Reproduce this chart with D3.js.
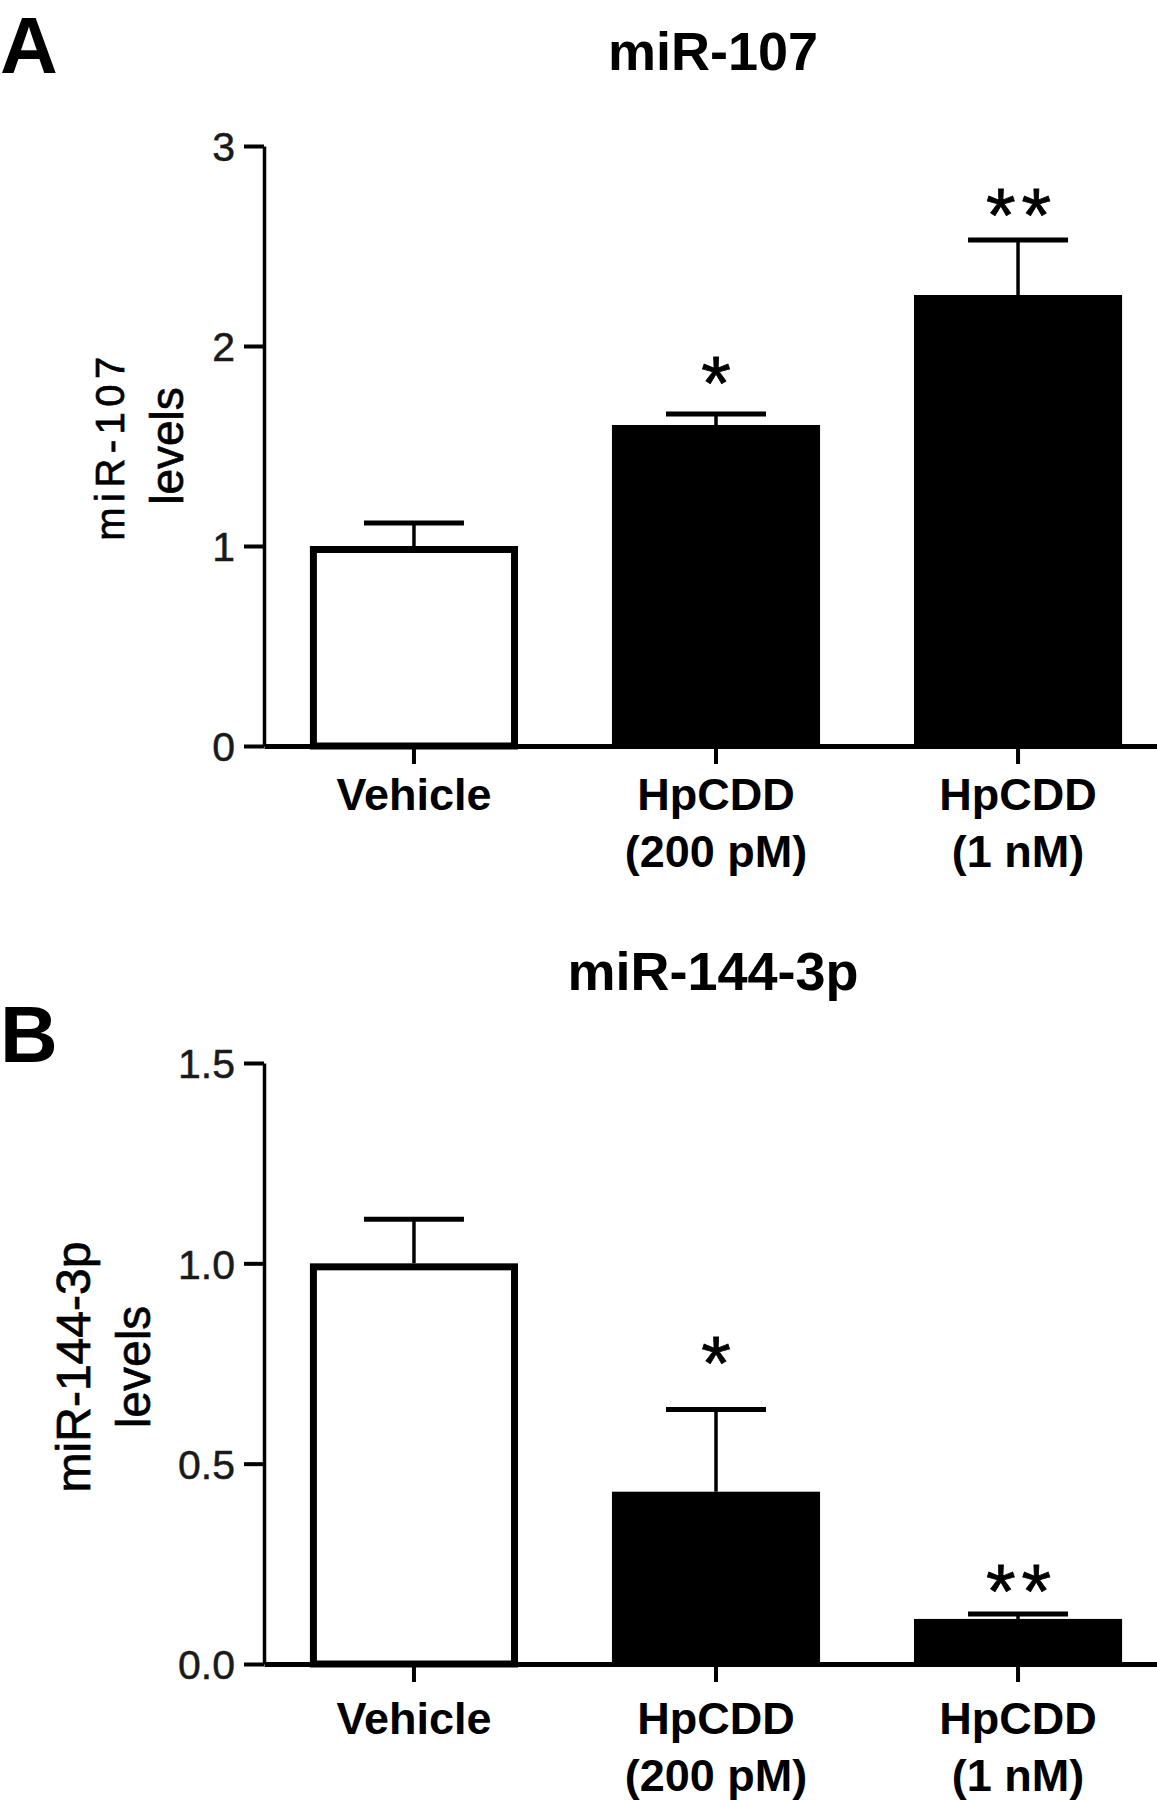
<!DOCTYPE html>
<html>
<head>
<meta charset="utf-8">
<script src="https://cdn.jsdelivr.net/npm/d3@7"></script>
<style>
  body { margin: 0; background: #fff; }
  text { font-family: "Liberation Sans", Arial, Helvetica, sans-serif; fill: #000; }
</style>
</head>
<body>
<svg id="chart"></svg>
<script>
// groups on the x axis (label lines as printed)
const groups = ["Vehicle", "HpCDD (200 pM)", "HpCDD (1 nM)"];
const groupLines = [["Vehicle"], ["HpCDD", "(200 pM)"], ["HpCDD", "(1 nM)"]];
const fills = ["#fff", "#000", "#000"];

// panel A : miR-107
const mir107Mean = [1.0, 1.605, 2.255];
const mir107Sem = [0.115, 0.055, 0.275];
const mir107Stars = ["", "*", "**"];
const mir107StarLevel = [0, 1.805, 2.645];
const mir107Ticks = [0, 1, 2, 3];

// panel B : miR-144-3p
const mir144Mean = [1.0, 0.43, 0.1125];
const mir144Sem = [0.11, 0.205, 0.0125];
const mir144Stars = ["", "*", "**"];
const mir144StarLevel = [0, 0.7475, 0.1775];
const mir144Ticks = [0, 0.5, 1.0, 1.5];

const width = 1157;
const height = 1800;
const axisX = 264;

const svg = d3.select("#chart")
  .attr("width", width)
  .attr("height", height);

const x = d3.scaleBand()
  .domain(groups)
  .range([axisX, 1168])
  .paddingInner(0.311)
  .paddingOuter(0.152);

const drawPanel = (p) => {
  const y = d3.scaleLinear().domain([0, p.yMax]).range([p.bottom, p.top]);
  const g = svg.append("g");

  // panel letter
  g.append("text")
    .attr("x", 0)
    .attr("y", p.letterY)
    .style("font-size", "80px")
    .style("font-weight", "bold")
    .text(p.letter);

  // title
  g.append("text")
    .attr("x", 713)
    .attr("y", p.titleY)
    .attr("text-anchor", "middle")
    .style("font-size", "54px")
    .style("font-weight", "bold")
    .text(p.title);

  // y label, two rotated lines
  p.yLabel.forEach((line) => {
    g.append("text")
      .attr("transform", `translate(${line.x}, ${p.labelCy}) rotate(-90)`)
      .attr("text-anchor", "middle")
      .style("font-size", line.size + "px")
      .style("letter-spacing", (line.spacing || 0) + "px")
      .style("stroke", "#000")
      .style("stroke-width", 0.7)
      .text(line.text);
  });

  const data = groups.map((k, i) => ({
    key: k,
    mean: p.mean[i],
    sem: p.sem[i],
    star: p.stars[i],
    starLevel: p.starLevel[i],
    fill: fills[i]
  }));

  // bars
  g.selectAll("rect.bar")
    .data(data)
    .enter()
    .append("rect")
    .attr("class", "bar")
    .attr("x", (d) => x(d.key) + (d.fill === "#fff" ? 3.5 : 0))
    .attr("width", (d) => x.bandwidth() - (d.fill === "#fff" ? 7 : 0))
    .attr("y", (d) => y(d.mean) + (d.fill === "#fff" ? 3.5 : 0))
    .attr("height", (d) => y(0) - y(d.mean) - (d.fill === "#fff" ? 3.5 : 0))
    .style("fill", (d) => d.fill)
    .style("stroke", "#000")
    .style("stroke-width", (d) => (d.fill === "#fff" ? 7 : 0));

  // error bars (upper only)
  const cx = (d) => x(d.key) + x.bandwidth() / 2;
  g.selectAll("line.stem")
    .data(data)
    .enter()
    .append("line")
    .attr("x1", cx)
    .attr("x2", cx)
    .attr("y1", (d) => y(d.mean))
    .attr("y2", (d) => y(d.mean + d.sem))
    .style("stroke", "#000")
    .style("stroke-width", 3.5);

  g.selectAll("line.cap")
    .data(data)
    .enter()
    .append("line")
    .attr("x1", (d) => cx(d) - 50)
    .attr("x2", (d) => cx(d) + 50)
    .attr("y1", (d) => y(d.mean + d.sem))
    .attr("y2", (d) => y(d.mean + d.sem))
    .style("stroke", "#000")
    .style("stroke-width", 5);

  // significance stars
  g.selectAll("text.star")
    .data(data.filter((d) => d.star))
    .enter()
    .append("text")
    .attr("x", (d) => cx(d) + (d.star.length - 1) * 3.5)
    .attr("y", (d) => y(d.starLevel) + 24)
    .attr("text-anchor", "middle")
    .style("font-size", "76px")
    .style("letter-spacing", (d) => (d.star.length > 1 ? "6px" : "0px"))
    .style("stroke", "#000")
    .style("stroke-width", 0.8)
    .text((d) => d.star);

  // y axis
  const yAxis = g.append("g")
    .attr("transform", `translate(${axisX},0)`)
    .call(d3.axisLeft(y).tickValues(p.ticks).tickFormat(p.fmt).tickSize(20).tickSizeOuter(0).tickPadding(9));
  yAxis.select(".domain").style("stroke", "#000").style("stroke-width", 3.5);
  yAxis.selectAll(".tick line").style("stroke", "#000").style("stroke-width", 4);
  yAxis.selectAll(".tick text")
    .style("font-size", "41px")
    .style("font-family", "\"Liberation Sans\", Arial, sans-serif")
    .style("fill", "#1a1a1a")
    .style("stroke", "#1a1a1a")
    .style("stroke-width", 0.5)
    .attr("dy", "0.36em");

  // x axis
  const xAxis = g.append("g")
    .attr("transform", `translate(0,${p.bottom})`)
    .call(d3.axisBottom(x).tickSize(18).tickSizeOuter(0).tickFormat(""));
  xAxis.select(".domain").style("stroke", "#000").style("stroke-width", 5);
  xAxis.selectAll(".tick line").style("stroke", "#000").style("stroke-width", 4);

  // x labels
  groupLines.forEach((lines, i) => {
    lines.forEach((t, j) => {
      g.append("text")
        .attr("x", x(groups[i]) + x.bandwidth() / 2)
        .attr("y", p.bottom + p.xLabelOffset + j * 57)
        .attr("text-anchor", "middle")
        .style("font-size", "45px")
        .style("font-weight", "bold")
        .text(t);
    });
  });
};

drawPanel({
  letter: "A",
  letterY: 73,
  title: "miR-107",
  titleY: 70,
  yLabel: [
    { text: "miR-107", x: 124, size: 40, spacing: 5.5 },
    { text: "levels", x: 183, size: 46 }
  ],
  labelCy: 446,
  mean: mir107Mean,
  sem: mir107Sem,
  stars: mir107Stars,
  starLevel: mir107StarLevel,
  ticks: mir107Ticks,
  fmt: d3.format("d"),
  yMax: 3,
  bottom: 746,
  top: 146,
  xLabelOffset: 64
});

drawPanel({
  letter: "B",
  letterY: 1062,
  title: "miR-144-3p",
  titleY: 990,
  yLabel: [
    { text: "miR-144-3p", x: 90, size: 48 },
    { text: "levels", x: 150, size: 48 }
  ],
  labelCy: 1367,
  mean: mir144Mean,
  sem: mir144Sem,
  stars: mir144Stars,
  starLevel: mir144StarLevel,
  ticks: mir144Ticks,
  fmt: d3.format(".1f"),
  yMax: 1.5,
  bottom: 1664,
  top: 1063,
  xLabelOffset: 70
});
</script>
</body>
</html>
